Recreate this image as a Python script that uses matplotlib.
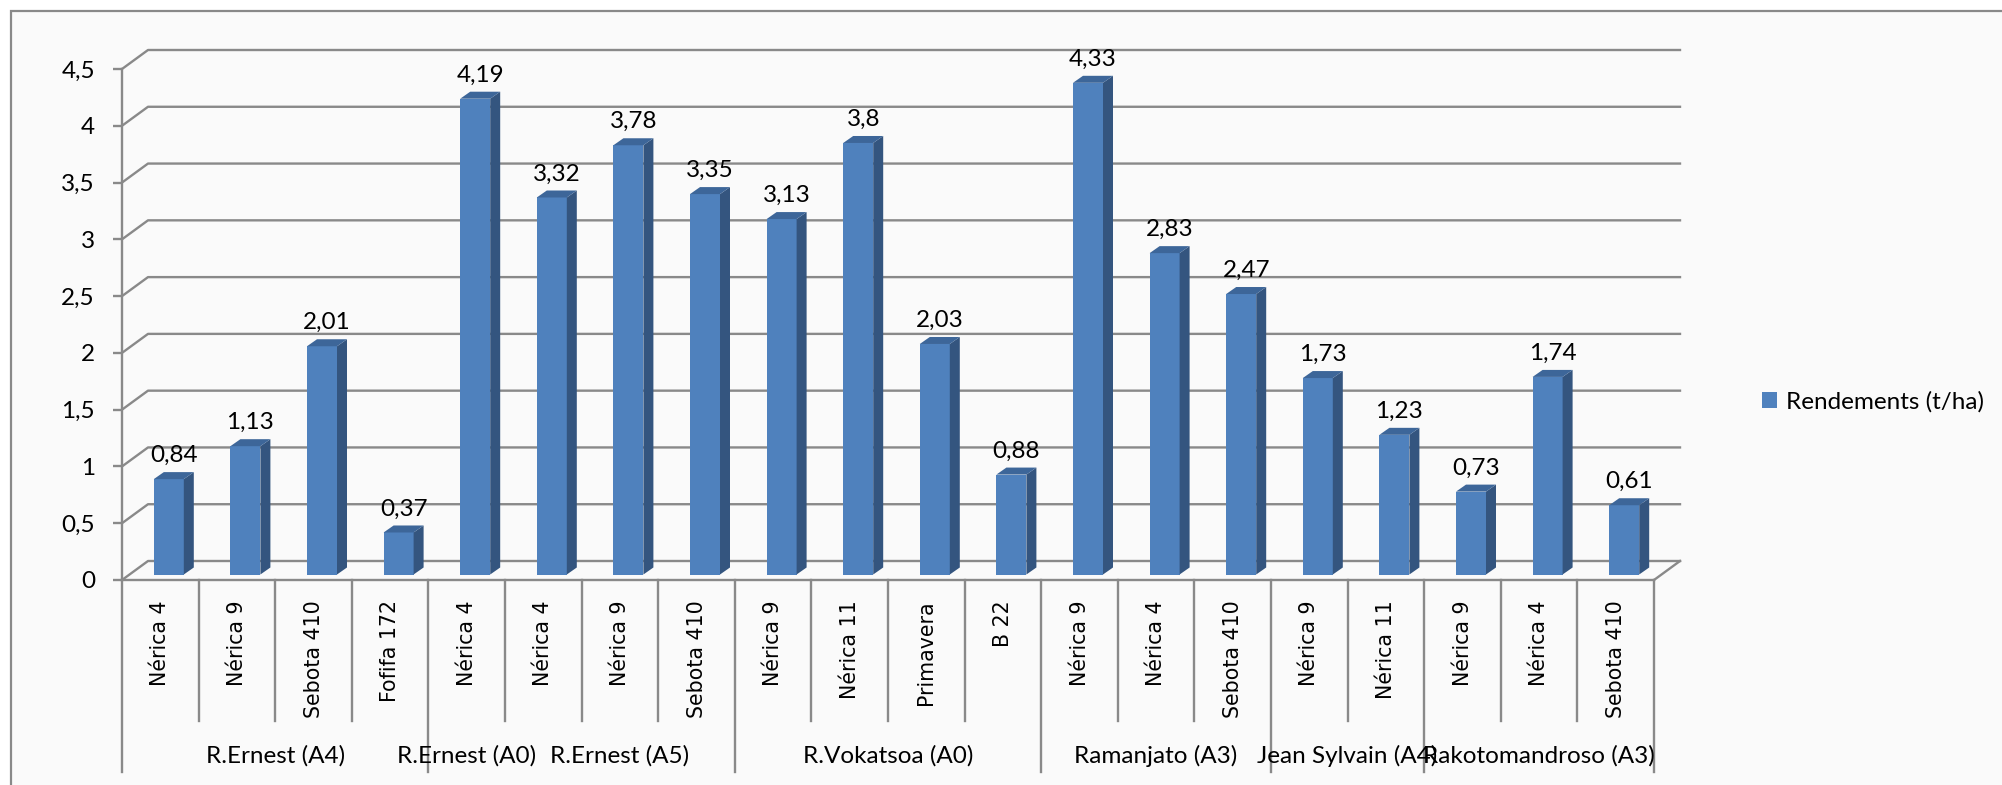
import numpy as np
import matplotlib.pyplot as plt
from matplotlib.patches import Polygon, Rectangle, Patch
from matplotlib.ticker import FuncFormatter

varieties = ["Nérica 4", "Nérica 9", "Sebota 410", "Fofifa 172",
             "Nérica 4",
             "Nérica 4", "Nérica 9", "Sebota 410",
             "Nérica 9", "Nérica 11", "Primavera", "B 22",
             "Nérica 9", "Nérica 4", "Sebota 410",
             "Nérica 9", "Nérica 11",
             "Nérica 9", "Nérica 4", "Sebota 410"]
farmers = ["R.Ernest (A4)", "R.Ernest (A0)", "R.Ernest (A5)", "R.Vokatsoa (A0)",
           "Ramanjato (A3)", "Jean Sylvain (A4)", "Rakotomandroso (A3)"]
farmer_sizes = [4, 1, 3, 4, 3, 2, 3]
yields = [0.84, 1.13, 2.01, 0.37, 4.19, 3.32, 3.78, 3.35, 3.13, 3.8,
          2.03, 0.88, 4.33, 2.83, 2.47, 1.73, 1.23, 0.73, 1.74, 0.61]
series_name = "Rendements (t/ha)"

W, H = 2002, 785
x0, x1 = 122, 1654      # front floor edge, pixels
y0, y1 = 580, 69        # value 0 and 4.5, pixels from top
ymax = 4.5
n = len(yields)

grey = "#898989"
front_c, side_c, top_c = "#4F81BD", "#34557F", "#3D6699"
txt_font = "Lato"
cat_font = "DejaVu Sans"
txt_size = 17.5

fig = plt.figure(figsize=(W / 100, H / 100), dpi=100)
fig.patch.set_facecolor("white")
fig.add_artist(Rectangle((11 / W, -0.05), 1.1, (H - 11) / H + 0.05,
                         transform=fig.transFigure, facecolor="#FAFAFA",
                         edgecolor=grey, lw=1.6, zorder=0))

ax = fig.add_axes([x0 / W, (H - y0) / H, (x1 - x0) / W, (y0 - y1) / H])
ax.set_xlim(0, n)
ax.set_ylim(0, ymax)
ax.patch.set_visible(False)

sx = (x1 - x0) / n
sy = (y0 - y1) / ymax
def px_x(p):
    return p / sx
def px_y(p):
    return p / sy

# back wall and floor
wdx, wdy = px_x(26), px_y(19)
ticks = np.arange(0, ymax + 0.01, 0.5)
for t in ticks:
    ax.plot([0, wdx, n + wdx], [t, t + wdy, t + wdy], color=grey, lw=1.7,
            clip_on=False, zorder=1)
ax.plot([n, n + wdx], [0, wdy], color=grey, lw=1.7, clip_on=False, zorder=1)

for s in ["top", "right"]:
    ax.spines[s].set_visible(False)
for s in ["left", "bottom"]:
    ax.spines[s].set_color(grey)
    ax.spines[s].set_linewidth(1.7)
ax.set_xticks([])
ax.set_yticks(ticks)
ax.yaxis.set_major_formatter(FuncFormatter(lambda v, _: f"{v:g}".replace(".", ",")))
ax.tick_params(axis="y", direction="out", length=6.5, width=1.7, color=grey,
               pad=13, labelsize=txt_size)
for lab in ax.get_yticklabels():
    lab.set_family(txt_font)

# 3d-looking columns
bw = px_x(30)
off = px_x(8.5)
lift = px_y(5.5)
bdx, bdy = px_x(10), px_y(7)
centers = np.arange(n) + 0.5 + off
ax.bar(centers, yields, width=bw, bottom=lift, color=front_c, zorder=3)
for c, v in zip(centers, yields):
    l, r = c - bw / 2, c + bw / 2
    top = v + lift
    ax.add_patch(Polygon([(r, lift), (r + bdx, lift + bdy), (r + bdx, top + bdy), (r, top)],
                         closed=True, facecolor=side_c, edgecolor="none", zorder=3))
    ax.add_patch(Polygon([(l, top), (r, top), (r + bdx, top + bdy), (l + bdx, top + bdy)],
                         closed=True, facecolor=top_c, edgecolor="none", zorder=3))
    ax.text(c + bdx / 2, top + bdy + px_y(10), f"{v:g}".replace(".", ","),
            ha="center", va="baseline", fontsize=txt_size, family=txt_font, zorder=4)

# two-level category axis
for i, name in enumerate(varieties):
    ax.text(i + 0.5, -px_y(20), name, rotation=90, ha="center", va="top",
            fontsize=14.8, family=cat_font, clip_on=False)

edges = np.concatenate([[0], np.cumsum(farmer_sizes)])
# no rule between the two single R.Ernest plots
group_edges = [e for e in edges if e != 5]
for k in range(n + 1):
    bottom = -px_y(192) if k in group_edges else -px_y(141)
    ax.plot([k, k], [0, bottom], color=grey, lw=1.7, clip_on=False, zorder=1)

for start, size, name in zip(edges[:-1], farmer_sizes, farmers):
    ax.text(start + size / 2, -px_y(176), name, ha="center", va="center",
            fontsize=txt_size, family=txt_font, clip_on=False)

fig.legend(handles=[Patch(facecolor=front_c)], labels=[series_name],
           loc="center left", bbox_to_anchor=(1762 / W, 1 - 402 / H),
           frameon=False, borderpad=0, borderaxespad=0,
           handlelength=0.62, handleheight=0.62, handletextpad=0.35,
           prop={"family": txt_font, "size": txt_size})

fig.savefig("out.png", dpi=100, facecolor=fig.get_facecolor())
